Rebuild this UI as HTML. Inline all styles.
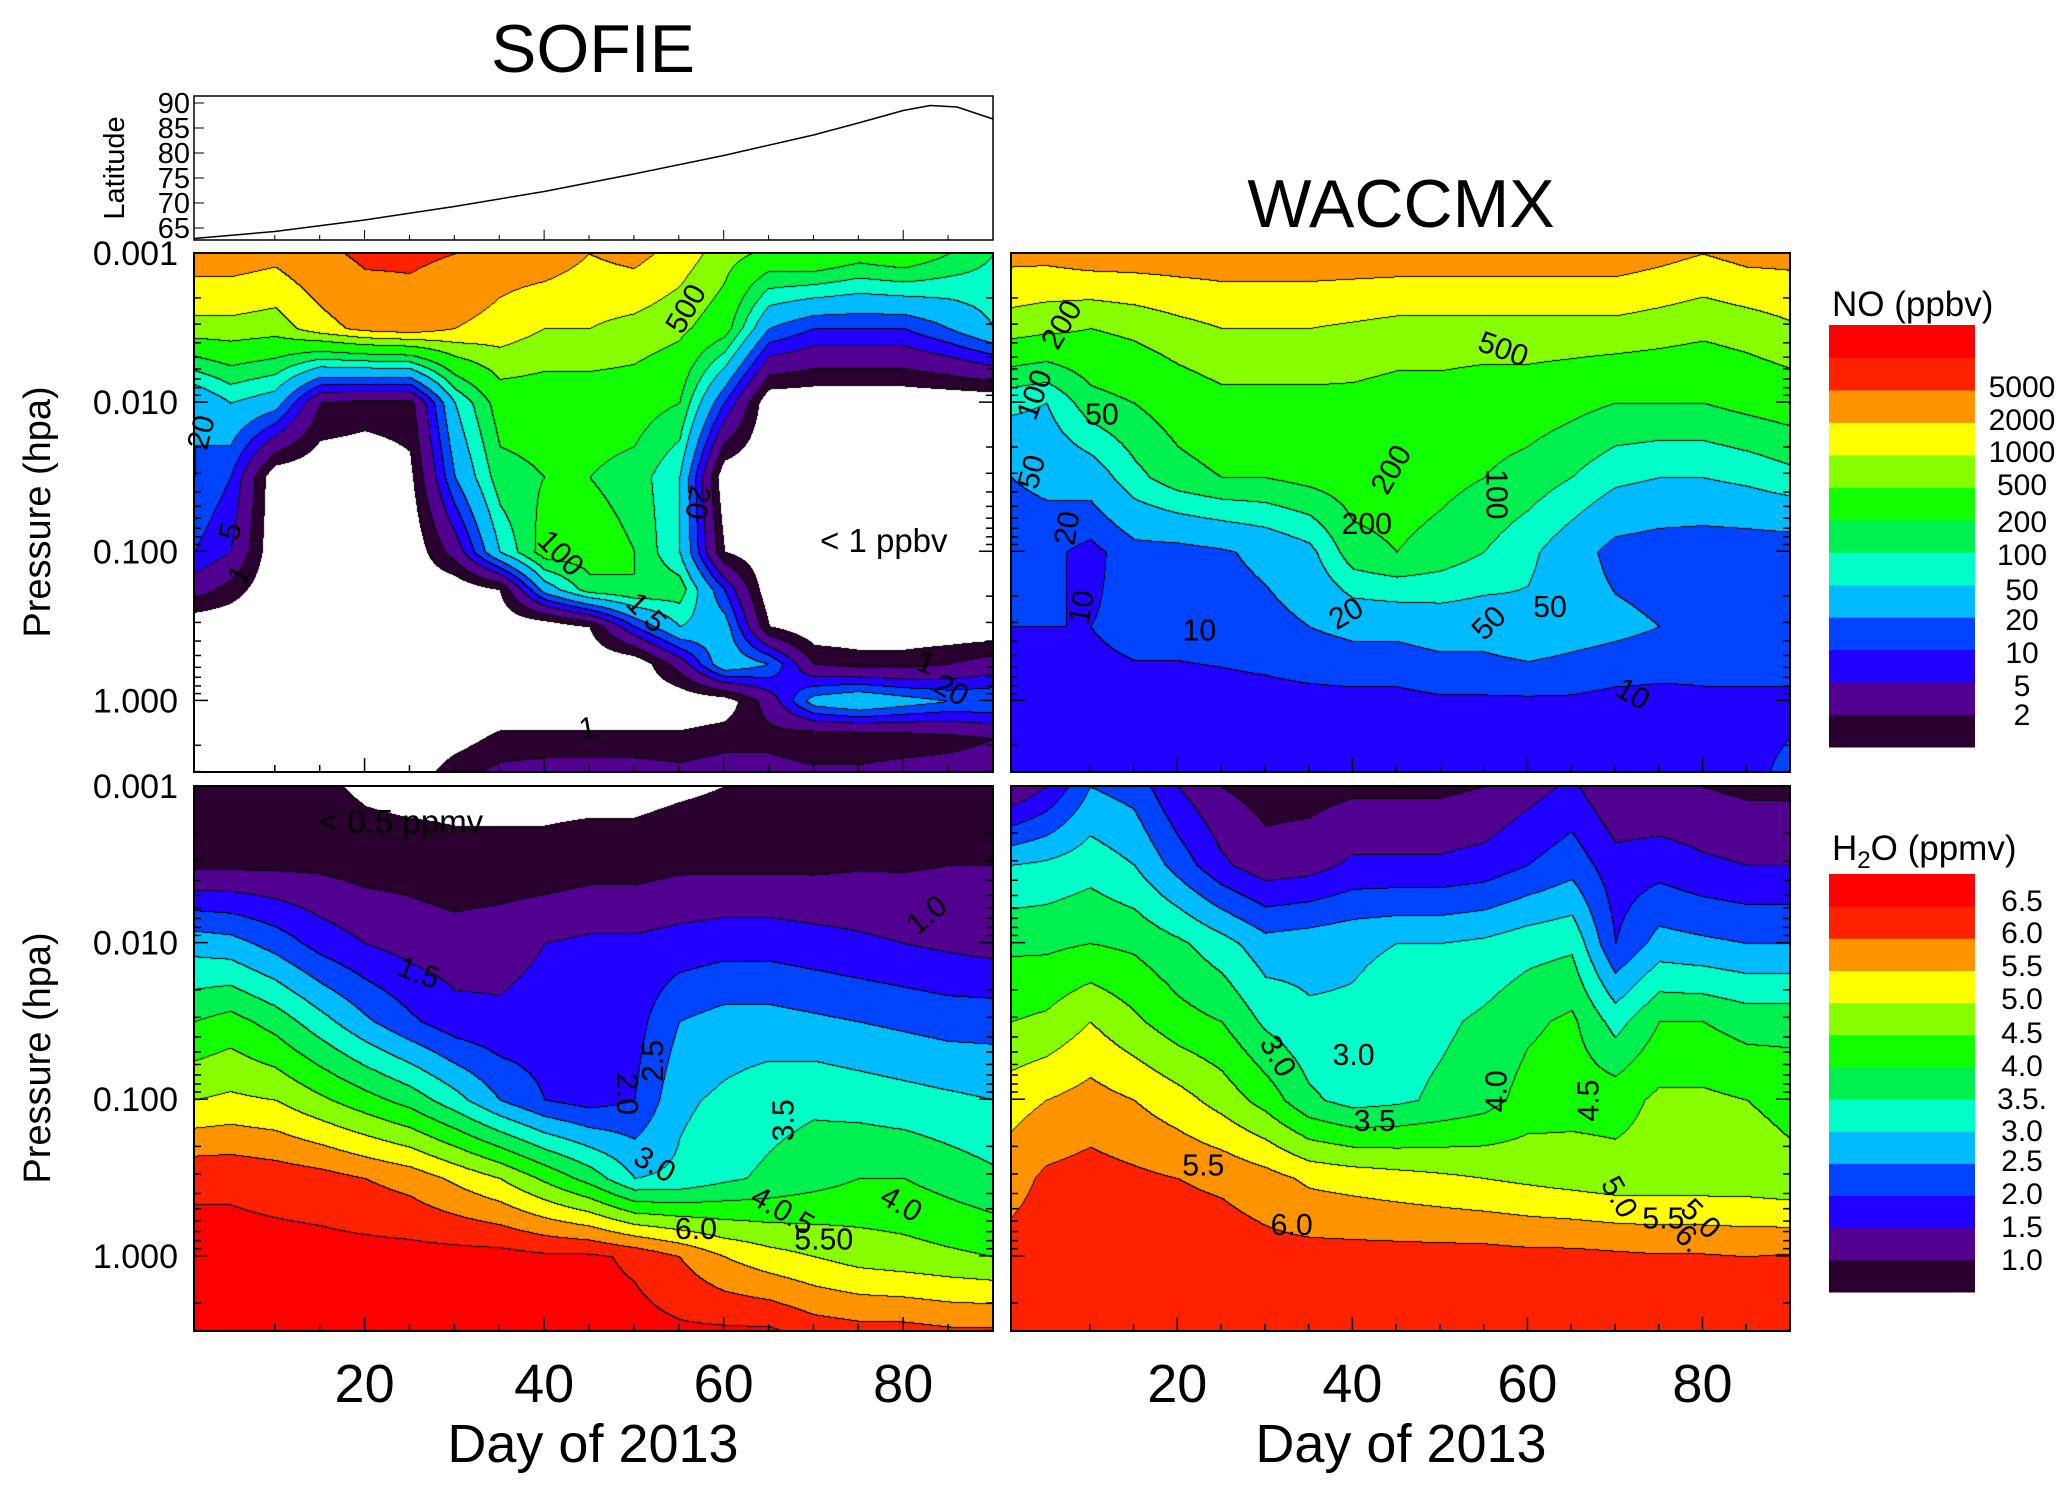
<!DOCTYPE html>
<html><head><meta charset="utf-8">
<style>
html,body{margin:0;padding:0;background:#fff;}
#wrap{position:relative;width:2067px;height:1492px;overflow:hidden;font-family:"Liberation Sans",sans-serif;}
canvas,svg{position:absolute;left:0;top:0;}
</style></head>
<body>
<div id="wrap">
<canvas id="cv" width="2067" height="1492"></canvas>
<svg id="sv" width="2067" height="1492" font-family="Liberation Sans, sans-serif">
  <text x="593" y="72" font-size="68" text-anchor="middle">SOFIE</text>
  <text x="1401" y="227" font-size="68" text-anchor="middle">WACCMX</text>
  <text transform="translate(124,168) rotate(-90)" font-size="29" text-anchor="middle">Latitude</text>
  <text transform="translate(50,512) rotate(-90)" font-size="38" text-anchor="middle">Pressure (hpa)</text>
  <text transform="translate(50,1058) rotate(-90)" font-size="38" text-anchor="middle">Pressure (hpa)</text>
  <text x="593" y="1462" font-size="54" text-anchor="middle">Day of 2013</text>
  <text x="1401" y="1462" font-size="54" text-anchor="middle">Day of 2013</text>
  <text x="820" y="552" font-size="33">&lt; 1 ppbv</text>
  <text x="319" y="833" font-size="33">&lt; 0.5 ppmv</text>
  <text x="1832" y="316" font-size="35">NO (ppbv)</text>
  <text x="1832" y="860" font-size="35">H<tspan font-size="24" dy="8">2</tspan><tspan dy="-8">O (ppmv)</tspan></text>
  <g transform="scale(1.318)" font-size="23">
    <text transform="translate(527,238) rotate(-60)" text-anchor="middle">500</text>
    <text transform="translate(160,330) rotate(-75)" text-anchor="middle">20</text>
    <text transform="translate(182,405) rotate(-75)" text-anchor="middle">5</text>
    <text transform="translate(188,440) rotate(-60)" text-anchor="middle">1</text>
    <text transform="translate(420,425) rotate(45)" text-anchor="middle">100</text>
    <text transform="translate(485,470) rotate(45)" text-anchor="middle">1 5</text>
    <text transform="translate(522,380) rotate(100)" text-anchor="middle">20</text>
    <text transform="translate(718,530) rotate(30)" text-anchor="middle">20</text>
    <text transform="translate(700,510) rotate(20)" text-anchor="middle">1</text>
    <text transform="translate(447,560) rotate(-10)" text-anchor="middle">1</text>
    <text transform="translate(812,250) rotate(-60)" text-anchor="middle">200</text>
    <text transform="translate(792,302) rotate(-70)" text-anchor="middle">100</text>
    <text transform="translate(836,322)" text-anchor="middle">50</text>
    <text transform="translate(790,360) rotate(-75)" text-anchor="middle">50</text>
    <text transform="translate(817,402) rotate(-80)" text-anchor="middle">20</text>
    <text transform="translate(828,462) rotate(-80)" text-anchor="middle">10</text>
    <text transform="translate(910,486)" text-anchor="middle">10</text>
    <text transform="translate(1138,272) rotate(20)" text-anchor="middle">500</text>
    <text transform="translate(1037,405)" text-anchor="middle">200</text>
    <text transform="translate(1062,360) rotate(-60)" text-anchor="middle">200</text>
    <text transform="translate(1128,375) rotate(90)" text-anchor="middle">100</text>
    <text transform="translate(1025,472) rotate(-30)" text-anchor="middle">20</text>
    <text transform="translate(1135,478) rotate(-45)" text-anchor="middle">50</text>
    <text transform="translate(1176,468)" text-anchor="middle">50</text>
    <text transform="translate(1235,533) rotate(30)" text-anchor="middle">10</text>
    <text transform="translate(315,745) rotate(20)" text-anchor="middle">1.5</text>
    <text transform="translate(468,830) rotate(90)" text-anchor="middle">2.0</text>
    <text transform="translate(503,805) rotate(-90)" text-anchor="middle">2.5</text>
    <text transform="translate(602,850) rotate(-90)" text-anchor="middle">3.5</text>
    <text transform="translate(493,890) rotate(30)" text-anchor="middle">3.0</text>
    <text transform="translate(680,920) rotate(30)" text-anchor="middle">4.0</text>
    <text transform="translate(528,940)" text-anchor="middle">6.0</text>
    <text transform="translate(590,925) rotate(30)" text-anchor="middle">4.0.5</text>
    <text transform="translate(625,948)" text-anchor="middle">5.50</text>
    <text transform="translate(708,700) rotate(-40)" text-anchor="middle">1.0</text>
    <text transform="translate(963,805) rotate(60)" text-anchor="middle">3.0</text>
    <text transform="translate(1027,808)" text-anchor="middle">3.0</text>
    <text transform="translate(1043,858)" text-anchor="middle">3.5</text>
    <text transform="translate(1143,828) rotate(-90)" text-anchor="middle">4.0</text>
    <text transform="translate(1213,835) rotate(-90)" text-anchor="middle">4.5</text>
    <text transform="translate(913,892)" text-anchor="middle">5.5</text>
    <text transform="translate(980,937)" text-anchor="middle">6.0</text>
    <text transform="translate(1222,912) rotate(60)" text-anchor="middle">5.0</text>
    <text transform="translate(1262,932)" text-anchor="middle">5.5</text>
    <text transform="translate(1285,930) rotate(45)" text-anchor="middle">5.0</text>
    <text transform="translate(1276,945) rotate(45)" text-anchor="middle">6.</text>
  </g>
</svg>
</div>
<script>
// ---- data ----
const dayGrid = [1,5,10,15,20,25,30,35,40,45,50,55,60,65,70,75,80,85,90];
const logpGrid = [-3,-2.5,-2,-1.5,-1,-0.5,0,0.48];
const sofieNOLogp = [-3,-2.5,-2,-1.5,-1,-0.75,-0.5,-0.25,0,0.25,0.48];
const sofieNO = [
 [3000,3000,2500,4000,6000,6000,5000,3000,3000,2000,2500,1500,700,400,500,300,400,200,100],
 [800,800,700,1500,2500,3000,2000,1500,1000,1000,800,600,300,20,10,10,10,20,50],
 [20,50,30,2,1.5,1.5,50,300,300,300,300,200,10,0.5,0.5,0.5,0.5,0.5,0.5],
 [20,10,0.5,0.5,0.5,0.8,20,150,200,200,150,50,0.5,0.5,0.5,0.5,0.5,0.5,0.5],
 [10,5,0.5,0.5,0.5,0.5,3,50,300,300,200,50,1,0.5,0.5,0.5,0.5,0.5,0.5],
 [3,1.5,0.5,0.5,0.5,0.5,0.5,1,30,150,200,150,10,0.5,0.5,0.5,0.5,0.5,0.5],
 [0.5,0.5,0.5,0.5,0.5,0.5,0.5,0.5,0.5,1,10,50,30,1,0.5,0.5,0.5,0.5,0.5],
 [0.5,0.5,0.5,0.5,0.5,0.5,0.5,0.5,0.5,0.5,0.5,3,40,20,2,1.5,1.5,2,3],
 [0.5,0.5,0.5,0.5,0.5,0.5,0.5,0.5,0.5,0.5,0.5,0.5,0.6,3,30,50,30,20,20],
 [0.5,0.5,0.5,0.5,0.5,0.5,0.7,1.2,1.2,1.2,1.2,1.2,1.5,1.5,1,1,1.2,1.5,2],
 [0.5,0.5,0.5,0.5,0.5,0.6,1.5,2.5,3,3,3,2.5,3,3,2.5,2.5,3,3,3]
];
const waccmNO = [
 [2500,2500,3000,3000,3000,3000,3000,3000,3000,3000,3000,3000,3000,3000,3000,2500,2000,2500,2500],
 [700,600,500,600,800,1000,1000,1000,900,800,800,800,800,800,800,700,600,700,900],
 [60,50,150,200,300,400,400,400,400,350,350,300,300,250,200,200,200,250,300],
 [20,25,30,80,150,200,200,250,300,300,250,200,150,100,60,50,50,60,80],
 [12,12,8,15,15,18,25,40,150,200,150,100,60,30,15,13,12,12,12],
 [10,10,10,12,12,13,15,20,25,25,30,30,40,30,25,20,15,15,15],
 [8,8,8,8,8,8,8,8,8,8,9,9,9,9,8,8,9,9,9],
 [8,8,7,7,7,7,7,7,7,7,7,7,7,7,7,8,9,9,11]
];
const sofieH2O = [
 [0.8,0.8,0.7,0.6,0.4,0.3,0.3,0.3,0.3,0.3,0.3,0.4,0.5,0.6,0.7,0.8,0.8,0.9,1.0],
 [0.9,0.9,0.9,0.9,0.8,0.8,0.7,0.7,0.7,0.8,0.8,0.9,0.9,0.9,0.9,0.95,0.95,1.0,1.0],
 [2.8,2.7,2.3,1.8,1.5,1.3,1.2,1.3,1.5,1.6,1.6,1.7,1.8,1.8,1.7,1.6,1.5,1.4,1.3],
 [4.0,4.2,3.8,3.2,2.6,2.1,1.7,1.6,1.7,1.7,1.8,2.5,2.7,2.7,2.6,2.5,2.4,2.3,2.3],
 [5.0,5.1,5.0,4.6,4.2,3.8,3.2,2.5,2.0,1.8,2.0,2.9,3.1,3.3,3.4,3.3,3.2,3.1,3.0],
 [6.4,6.4,6.3,6.2,6.0,5.8,5.4,5.0,4.4,3.8,3.0,3.1,3.4,3.6,3.8,4.0,4.0,3.8,3.6],
 [6.7,6.7,6.7,6.7,6.7,6.7,6.7,6.7,6.6,6.6,6.4,6.0,5.5,5.2,5.0,4.8,4.7,4.6,4.5],
 [6.7,6.7,6.7,6.7,6.7,6.7,6.7,6.7,6.7,6.7,6.7,6.6,6.6,6.6,6.3,6.2,6.2,6.1,6.1]
];
const waccmH2O = [
 [1.0,1.5,2.5,2.3,1.5,1.0,0.8,0.8,0.9,0.9,0.9,1.0,1.3,1.6,1.0,1.0,1.0,0.9,0.9],
 [3.0,3.1,3.3,3.0,2.3,1.6,1.2,1.3,1.6,1.6,1.6,1.7,2.0,2.3,1.7,1.8,1.6,1.5,1.5],
 [3.9,3.9,4.0,3.9,3.6,3.2,2.7,2.8,2.9,3.0,3.0,3.1,3.3,3.4,2.0,2.7,2.6,2.5,2.5],
 [4.5,4.6,5.0,4.6,4.2,4.0,3.4,3.1,3.1,3.3,3.4,3.6,3.9,4.1,3.3,4.0,4.0,3.8,3.8],
 [5.3,5.5,5.7,5.5,5.2,4.8,4.3,3.6,3.3,3.4,3.6,3.8,4.2,4.3,4.3,4.6,4.6,4.5,4.4],
 [5.8,6.1,6.2,6.1,6.0,5.9,5.7,5.4,5.3,5.2,5.1,5.0,4.9,4.8,4.7,4.7,4.7,4.7,4.6],
 [6.2,6.3,6.3,6.3,6.3,6.3,6.2,6.2,6.2,6.2,6.2,6.2,6.15,6.15,6.1,6.05,6.05,6.0,6.05],
 [6.3,6.3,6.3,6.3,6.3,6.3,6.3,6.3,6.3,6.3,6.3,6.3,6.3,6.3,6.3,6.3,6.3,6.25,6.25]
];
const noLevels = [1,2,5,10,20,50,100,200,500,1000,2000,5000,10000];
const h2oLevels = [0.5,1,1.5,2,2.5,3,3.5,4,4.5,5,5.5,6,6.5];
const noLabels = ["2","5","10","20","50","100","200","500","1000","2000","5000"];
const h2oLabels = ["1.0","1.5","2.0","2.5","3.0","3.5.","4.0","4.5","5.0","5.5","6.0","6.5"];
const latDays = [1,10,20,30,40,50,60,70,75,80,83,86,90];
const latVals = [62.9,64.3,66.6,69.3,72.3,75.8,79.5,83.6,86.0,88.5,89.5,89.2,86.8];
const latTicks = [65,70,75,80,85,90];
const pTicks = [0.001,0.01,0.1,1];
const pTickLabels = ["0.001","0.010","0.100","1.000"];
const dayTicks = [20,40,60,80];

const colors = [[255,255,255],[42,0,46],[82,0,144],[34,0,255],[0,68,255],[0,187,255],[0,255,200],[0,240,80],[17,255,0],[136,255,0],[255,255,0],[255,148,0],[255,34,0],[255,0,0]];

// ---- axes ----
function makeX(x0,x1){return d=>x0+(d-1)/(90-1)*(x1-x0);}
function makeY(y0,y1){return lp=>y0+(lp+3)/3.48*(y1-y0);}
const panels = [
 {name:'sofie-no',x0:194,x1:993,y0:253,y1:772,data:sofieNO,lp:sofieNOLogp,lev:noLevels,log:true},
 {name:'waccmx-no',x0:1011,x1:1790,y0:253,y1:772,data:waccmNO,lp:logpGrid,lev:noLevels,log:true},
 {name:'sofie-h2o',x0:194,x1:993,y0:786,y1:1331,data:sofieH2O,lp:logpGrid,lev:h2oLevels,log:false},
 {name:'waccmx-h2o',x0:1011,x1:1790,y0:786,y1:1331,data:waccmH2O,lp:logpGrid,lev:h2oLevels,log:false}
];
function locate(arr,v){
  if(v<=arr[0])return [0,0];
  for(let i=0;i<arr.length-1;i++){if(v<=arr[i+1])return [i,(v-arr[i])/(arr[i+1]-arr[i])];}
  return [arr.length-2,1];
}
const cv=document.getElementById('cv');const ctx=cv.getContext('2d');
panels.forEach(p=>{
  const W=p.x1-p.x0,H=p.y1-p.y0;
  const img=ctx.createImageData(W,H);
  const idx=new Int8Array(W*H);
  for(let j=0;j<H;j++){
    const lp=-3+j/H*3.48;const [r,fr]=locate(p.lp,lp);
    for(let i=0;i<W;i++){
      const d=1+i/W*89;const [c,fc]=locate(dayGrid,d);
      const g=(a,b)=>{let v=p.data[a][b];return p.log?Math.log10(v):v;};
      let v=(1-fr)*((1-fc)*g(r,c)+fc*g(r,c+1))+fr*((1-fc)*g(r+1,c)+fc*g(r+1,c+1));
      if(p.log)v=Math.pow(10,v);
      let k=0;while(k<p.lev.length&&v>=p.lev[k])k++;
      idx[j*W+i]=k;
    }
  }
  for(let j=0;j<H;j++)for(let i=0;i<W;i++){
    const k=idx[j*W+i];let col=colors[k];
    if((i>0&&idx[j*W+i-1]!==k)||(j>0&&idx[(j-1)*W+i]!==k))col=[0,0,0];
    const o=(j*W+i)*4;img.data[o]=col[0];img.data[o+1]=col[1];img.data[o+2]=col[2];img.data[o+3]=255;
  }
  ctx.putImageData(img,p.x0,p.y0);
});

const NS='http://www.w3.org/2000/svg';const sv=document.getElementById('sv');
function el(tag,attrs,txt){const e=document.createElementNS(NS,tag);for(const k in attrs)e.setAttribute(k,attrs[k]);if(txt!==undefined)e.textContent=txt;sv.appendChild(e);return e;}
panels.forEach((p,pi)=>{
  const fr=el('rect',{x:p.x0,y:p.y0,width:p.x1-p.x0,height:p.y1-p.y0,fill:'none',stroke:'#000','stroke-width':2});
  
  
  const X=makeX(p.x0,p.x1),Y=makeY(p.y0,p.y1);
  for(let d=10;d<=90;d+=5){const big=d%20===0;
    const t=el('line',{x1:X(d),x2:X(d),y1:p.y1,y2:p.y1-(big?14:7),stroke:'#000','stroke-width':1.5});
    }
  for(let e=-3;e<=0;e++)for(let m=1;m<10;m++){const lp=e+Math.log10(m);if(lp>0.48)continue;
    const len=m===1?14:7;
    const t=el('line',{x1:p.x0,x2:p.x0+len,y1:Y(lp),y2:Y(lp),stroke:'#000','stroke-width':1.5});
    
    const t2=el('line',{x1:p.x1,x2:p.x1-len,y1:Y(lp),y2:Y(lp),stroke:'#000','stroke-width':1.5});
    }
  if(pi%2===0){pTicks.forEach((v,i)=>{const t=el('text',{x:178,y:Y(Math.log10(v))+12,'font-size':34,'text-anchor':'end'},pTickLabels[i]);
    });}
  if(pi>=2){dayTicks.forEach(d=>{const t=el('text',{x:X(d),y:1402,'font-size':54,'text-anchor':'middle'},String(d));
    });}
});
// latitude panel
(function(){
  const x0=194,x1=993,y0=96,y1=240;const X=makeX(x0,x1);const Y=v=>y0+(91.4-v)/(91.4-62.6)*(y1-y0);
  const fr=el('rect',{x:x0,y:y0,width:x1-x0,height:y1-y0,fill:'none',stroke:'#000','stroke-width':1.5});
  
  latTicks.forEach(v=>{const t=el('text',{x:190,y:Y(v)+10,'font-size':29,'text-anchor':'end'},String(v));
    
    const l=el('line',{x1:x0,x2:x0+10,y1:Y(v),y2:Y(v),stroke:'#000'});
    });
  for(let d=10;d<=90;d+=5){const t=el('line',{x1:X(d),x2:X(d),y1:y1,y2:y1-(d%20===0?10:5),stroke:'#000'});
    }
  const pts=latDays.map((d,i)=>X(d).toFixed(1)+','+Y(latVals[i]).toFixed(1)).join(' ');
  const pl=el('polyline',{points:pts,fill:'none',stroke:'#000','stroke-width':1.5});
  
})();
// colorbars
function colorbar(name,y0,y1,labels,labelYs){
  const x0=1829,x1=1975,n=13,h=(y1-y0)/n;
  for(let k=1;k<=n;k++){const c=colors[k];
    const r=el('rect',{x:x0,y:y1-k*h,width:x1-x0,height:h+0.5,fill:'rgb('+c.join(',')+')'});
    }
  labels.forEach((s,i)=>{const t=el('text',{x:2022,y:labelYs[i]+11,'font-size':30,'text-anchor':'middle'},s);
    });
}
colorbar('no-colorbar',325,747,noLabels,[714,685,652,619,589,554,521,484,451,419,386]);
colorbar('h2o-colorbar',874,1292,h2oLabels,[1259,1226,1193,1160,1130,1098,1065,1032,998,965,932,900]);
</script>
</body></html>
